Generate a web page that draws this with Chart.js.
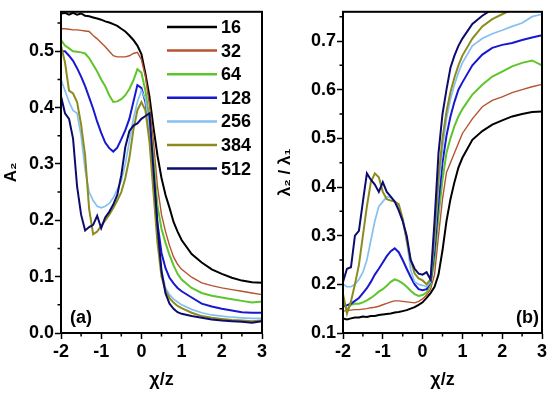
<!DOCTYPE html>
<html>
<head>
<meta charset="utf-8">
<script src="https://cdn.jsdelivr.net/npm/chart.js@4.4.0/dist/chart.umd.min.js"></script>
<style>
  html, body { margin: 0; padding: 0; background: #fff; }
  #wrap { position: relative; width: 550px; height: 395px; }
  canvas { position: absolute; top: 0; }
  #chartA { left: 0; }
  #chartB { left: 270px; }
</style>
</head>
<body>
<div id="wrap">
  <canvas id="chartA" width="270" height="395"></canvas>
  <canvas id="chartB" width="280" height="395"></canvas>
</div>
<script>
// Data (chi/z on x)
const xValues = [-2, -1.9, -1.8, -1.7, -1.6, -1.5, -1.4, -1.3, -1.2, -1.1, -1.0, -0.9, -0.8, -0.7, -0.6, -0.5, -0.4, -0.3, -0.2, -0.1,
    0, 0.1, 0.2, 0.3, 0.4, 0.5, 0.6, 0.7, 0.8, 0.9, 1.0, 1.25, 1.5, 1.75, 2.0, 2.25, 2.5, 2.75, 3.0];

const seriesLabels = ['16', '32', '64', '128', '256', '384', '512'];
const seriesColors = ['#000000', '#b5532f', '#5ec52a', '#1818d0', '#86c0f0', '#8c8c1e', '#0c0c6e'];
const seriesWidths = [2, 1.4, 2, 2, 1.7, 2, 2];

// panel (a): A2
const a16 = [0.567, 0.568, 0.565, 0.568, 0.565, 0.567, 0.563, 0.562, 0.560, 0.558, 0.556, 0.553, 0.551, 0.548, 0.545, 0.540, 0.535, 0.528, 0.520, 0.510,
    0.495, 0.460, 0.420, 0.365, 0.315, 0.275, 0.245, 0.222, 0.197, 0.180, 0.165, 0.140, 0.125, 0.113, 0.105, 0.098, 0.093, 0.090, 0.089];
const a32 = [0.540, 0.540, 0.539, 0.538, 0.538, 0.537, 0.536, 0.535, 0.528, 0.522, 0.515, 0.508, 0.500, 0.492, 0.490, 0.490, 0.490, 0.492, 0.496, 0.498,
    0.485, 0.455, 0.405, 0.340, 0.260, 0.210, 0.180, 0.155, 0.135, 0.122, 0.113, 0.099, 0.089, 0.084, 0.080, 0.077, 0.074, 0.071, 0.068];
const a64 = [0.520, 0.510, 0.505, 0.500, 0.499, 0.498, 0.496, 0.488, 0.476, 0.464, 0.450, 0.438, 0.422, 0.410, 0.411, 0.415, 0.422, 0.433, 0.448, 0.468,
    0.462, 0.430, 0.380, 0.310, 0.225, 0.185, 0.160, 0.138, 0.120, 0.105, 0.095, 0.080, 0.071, 0.066, 0.063, 0.060, 0.057, 0.054, 0.056];
const a128 = [0.500, 0.500, 0.492, 0.483, 0.470, 0.455, 0.438, 0.418, 0.398, 0.375, 0.355, 0.338, 0.328, 0.322, 0.329, 0.344, 0.360, 0.380, 0.410, 0.440,
    0.435, 0.410, 0.355, 0.280, 0.195, 0.142, 0.115, 0.098, 0.088, 0.080, 0.074, 0.063, 0.052, 0.047, 0.043, 0.040, 0.037, 0.036, 0.036];
const a256 = [0.450, 0.430, 0.410, 0.395, 0.390, 0.350, 0.290, 0.250, 0.235, 0.225, 0.222, 0.225, 0.230, 0.240, 0.255, 0.270, 0.300, 0.340, 0.380, 0.410,
    0.430, 0.415, 0.360, 0.270, 0.170, 0.110, 0.080, 0.068, 0.060, 0.055, 0.050, 0.042, 0.036, 0.032, 0.030, 0.028, 0.027, 0.026, 0.026];
const a384 = [0.510, 0.480, 0.430, 0.425, 0.410, 0.370, 0.315, 0.220, 0.175, 0.180, 0.190, 0.200, 0.210, 0.222, 0.235, 0.250, 0.275, 0.310, 0.360, 0.395,
    0.410, 0.395, 0.340, 0.250, 0.160, 0.100, 0.075, 0.062, 0.054, 0.048, 0.044, 0.036, 0.030, 0.027, 0.025, 0.023, 0.022, 0.021, 0.022];
const a512 = [0.420, 0.390, 0.380, 0.345, 0.260, 0.210, 0.182, 0.188, 0.192, 0.208, 0.186, 0.205, 0.215, 0.228, 0.245, 0.280, 0.330, 0.358, 0.368, 0.372,
    0.380, 0.385, 0.390, 0.290, 0.190, 0.110, 0.070, 0.052, 0.043, 0.037, 0.034, 0.030, 0.027, 0.024, 0.022, 0.021, 0.020, 0.018, 0.021];

// panel (b): lambda2 / lambda1
const b16 = [0.130, 0.128, 0.130, 0.132, 0.132, 0.134, 0.133, 0.135, 0.135, 0.137, 0.138, 0.139, 0.140, 0.142, 0.143, 0.145, 0.147, 0.150, 0.153, 0.158,
    0.163, 0.172, 0.182, 0.195, 0.220, 0.270, 0.330, 0.375, 0.410, 0.440, 0.460, 0.497, 0.515, 0.528, 0.537, 0.545, 0.550, 0.554, 0.555];
const b32 = [0.145, 0.146, 0.147, 0.148, 0.148, 0.149, 0.150, 0.152, 0.153, 0.155, 0.158, 0.161, 0.164, 0.166, 0.166, 0.165, 0.164, 0.163, 0.162, 0.165,
    0.170, 0.178, 0.190, 0.220, 0.300, 0.375, 0.430, 0.450, 0.470, 0.490, 0.510, 0.540, 0.565, 0.578, 0.585, 0.594, 0.600, 0.606, 0.611];
const b64 = [0.165, 0.148, 0.158, 0.160, 0.160, 0.163, 0.167, 0.172, 0.178, 0.185, 0.190, 0.197, 0.205, 0.210, 0.207, 0.202, 0.195, 0.187, 0.180, 0.176,
    0.178, 0.183, 0.200, 0.250, 0.340, 0.415, 0.470, 0.500, 0.525, 0.545, 0.560, 0.590, 0.610, 0.627, 0.637, 0.648, 0.655, 0.660, 0.650];
const b128 = [0.155, 0.157, 0.160, 0.166, 0.172, 0.182, 0.192, 0.205, 0.220, 0.232, 0.245, 0.258, 0.268, 0.274, 0.266, 0.250, 0.232, 0.215, 0.200, 0.190,
    0.188, 0.190, 0.205, 0.270, 0.370, 0.450, 0.505, 0.545, 0.575, 0.600, 0.615, 0.650, 0.672, 0.686, 0.692, 0.696, 0.702, 0.707, 0.712];
const b256 = [0.200, 0.195, 0.195, 0.200, 0.210, 0.225, 0.250, 0.290, 0.330, 0.360, 0.370, 0.380, 0.378, 0.370, 0.360, 0.330, 0.290, 0.230, 0.205, 0.200,
    0.198, 0.195, 0.205, 0.290, 0.400, 0.480, 0.540, 0.580, 0.610, 0.635, 0.655, 0.690, 0.705, 0.715, 0.722, 0.730, 0.737, 0.750, 0.755];
const b384 = [0.180, 0.140, 0.165, 0.200, 0.240, 0.300, 0.360, 0.410, 0.428, 0.420, 0.390, 0.375, 0.372, 0.370, 0.365, 0.335, 0.290, 0.250, 0.222, 0.212,
    0.208, 0.200, 0.210, 0.300, 0.420, 0.500, 0.555, 0.595, 0.625, 0.650, 0.670, 0.705, 0.730, 0.745, 0.755, 0.765, 0.765, 0.765, 0.765];
const b512 = [0.205, 0.232, 0.235, 0.300, 0.310, 0.370, 0.428, 0.415, 0.405, 0.390, 0.410, 0.390, 0.380, 0.370, 0.352, 0.330, 0.300, 0.250, 0.232, 0.222,
    0.220, 0.225, 0.210, 0.330, 0.470, 0.550, 0.600, 0.645, 0.670, 0.690, 0.705, 0.735, 0.752, 0.765, 0.765, 0.765, 0.765, 0.765, 0.765];

// Tick values
const xTicks = [-2, -1, 0, 1, 2, 3];
const xMinorTicks = [-1.5, -0.5, 0.5, 1.5, 2.5];
const yTicksA = [0, 0.1, 0.2, 0.3, 0.4, 0.5];
const yMinorTicksA = [0.05, 0.15, 0.25, 0.35, 0.45, 0.55];
const yTicksB = [0.1, 0.2, 0.3, 0.4, 0.5, 0.6, 0.7];
const yMinorTicksB = [0.15, 0.25, 0.35, 0.45, 0.55, 0.65, 0.75];

const FONT = '"Liberation Sans", Arial, sans-serif';
Chart.defaults.font.family = FONT;
Chart.defaults.color = '#000';

// frame, minor ticks, panel tag and in-plot legend
const panelExtras = {
    id: 'panelExtras',
    afterDraw(chart, args, opts) {
        const { ctx, chartArea: { left, right, top, bottom }, scales: { x, y } } = chart;
        ctx.save();
        ctx.strokeStyle = '#000';
        ctx.lineWidth = 2;
        ctx.strokeRect(left, top, right - left, bottom - top);

        ctx.lineWidth = 1.5;
        ctx.beginPath();
        xMinorTicks.forEach(v => {
            const px = x.getPixelForValue(v);
            ctx.moveTo(px, bottom);
            ctx.lineTo(px, bottom + 3.5);
        });
        opts.minorY.forEach(v => {
            const py = y.getPixelForValue(v);
            ctx.moveTo(left, py);
            ctx.lineTo(left - 3.5, py);
        });
        ctx.stroke();

        ctx.fillStyle = '#000';
        ctx.font = 'bold 18px ' + FONT;
        ctx.textBaseline = 'middle';
        if (opts.tagAlign === 'left') {
            ctx.textAlign = 'left';
            ctx.fillText(opts.tag, left + 9, bottom - 15);
        } else {
            ctx.textAlign = 'right';
            ctx.fillText(opts.tag, right - 3, bottom - 15);
        }

        if (opts.legend) {
            ctx.font = 'bold 18px ' + FONT;
            ctx.textAlign = 'left';
            chart.data.datasets.forEach((ds, i) => {
                const yy = 27 + i * 23.6;
                ctx.strokeStyle = ds.borderColor;
                ctx.lineWidth = 2.5;
                ctx.beginPath();
                ctx.moveTo(167, yy);
                ctx.lineTo(217, yy);
                ctx.stroke();
                ctx.fillText(ds.label, 221, yy + 1);
            });
        }
        ctx.restore();
    }
};

function makeDatasets(seriesList) {
    return seriesList.map((vals, i) => ({
        label: seriesLabels[i],
        data: xValues.map((x, j) => ({ x: x, y: vals[j] })),
        borderColor: seriesColors[i],
        backgroundColor: seriesColors[i],
        borderWidth: seriesWidths[i],
        pointRadius: 0,
        tension: 0,
        fill: false,
        order: seriesList.length - i
    }));
}

function buildPanel(canvasId, seriesList, yMin, yMax, yTicks, yMinor, yTitle, yWidth, yTitlePad, tag, tagAlign, showLegend) {
    const ctx = document.getElementById(canvasId).getContext('2d');
    return new Chart(ctx, {
        type: 'line',
        data: { datasets: makeDatasets(seriesList) },
        plugins: [panelExtras],
        options: {
            responsive: false,
            animation: false,
            layout: { padding: { top: 5, right: 8, bottom: 0, left: 0 } },
            plugins: {
                legend: { display: false },
                tooltip: { enabled: false },
                panelExtras: { minorY: yMinor, tag: tag, tagAlign: tagAlign, legend: showLegend }
            },
            scales: {
                x: {
                    type: 'linear',
                    min: -2,
                    max: 3,
                    afterBuildTicks: (scale) => { scale.ticks = xTicks.map(v => ({ value: v })); },
                    afterFit: (scale) => { scale.height = 62; },
                    grid: { drawOnChartArea: false, tickLength: 6, tickWidth: 1.5, tickColor: '#000' },
                    border: { display: true, color: '#000', width: 2 },
                    ticks: {
                        padding: 2,
                        font: { size: 18, weight: 'bold' },
                        callback: (v) => String(v)
                    },
                    title: {
                        display: true,
                        text: 'χ/z',
                        font: { size: 18, weight: 'bold' },
                        padding: { top: 0, bottom: 4 }
                    }
                },
                y: {
                    type: 'linear',
                    min: yMin,
                    max: yMax,
                    afterBuildTicks: (scale) => { scale.ticks = yTicks.map(v => ({ value: v })); },
                    afterFit: (scale) => { scale.width = yWidth; },
                    grid: { drawOnChartArea: false, tickLength: 6, tickWidth: 1.5, tickColor: '#000' },
                    border: { display: true, color: '#000', width: 2 },
                    ticks: {
                        padding: 1,
                        font: { size: 18, weight: 'bold' },
                        callback: (v) => Number(v).toFixed(1)
                    },
                    title: {
                        display: true,
                        text: yTitle,
                        font: { size: 17, weight: 'bold' },
                        padding: { top: yTitlePad, bottom: 0 }
                    }
                }
            }
        }
    });
}

buildPanel('chartA', [a16, a32, a64, a128, a256, a384, a512], 0, 0.57, yTicksA, yMinorTicksA,
    'A₂', 61, 1, '(a)', 'left', true);
buildPanel('chartB', [b16, b32, b64, b128, b256, b384, b512], 0.1, 0.76, yTicksB, yMinorTicksB,
    'λ₂ / λ₁', 73, 5, '(b)', 'right', false);
</script>
</body>
</html>
